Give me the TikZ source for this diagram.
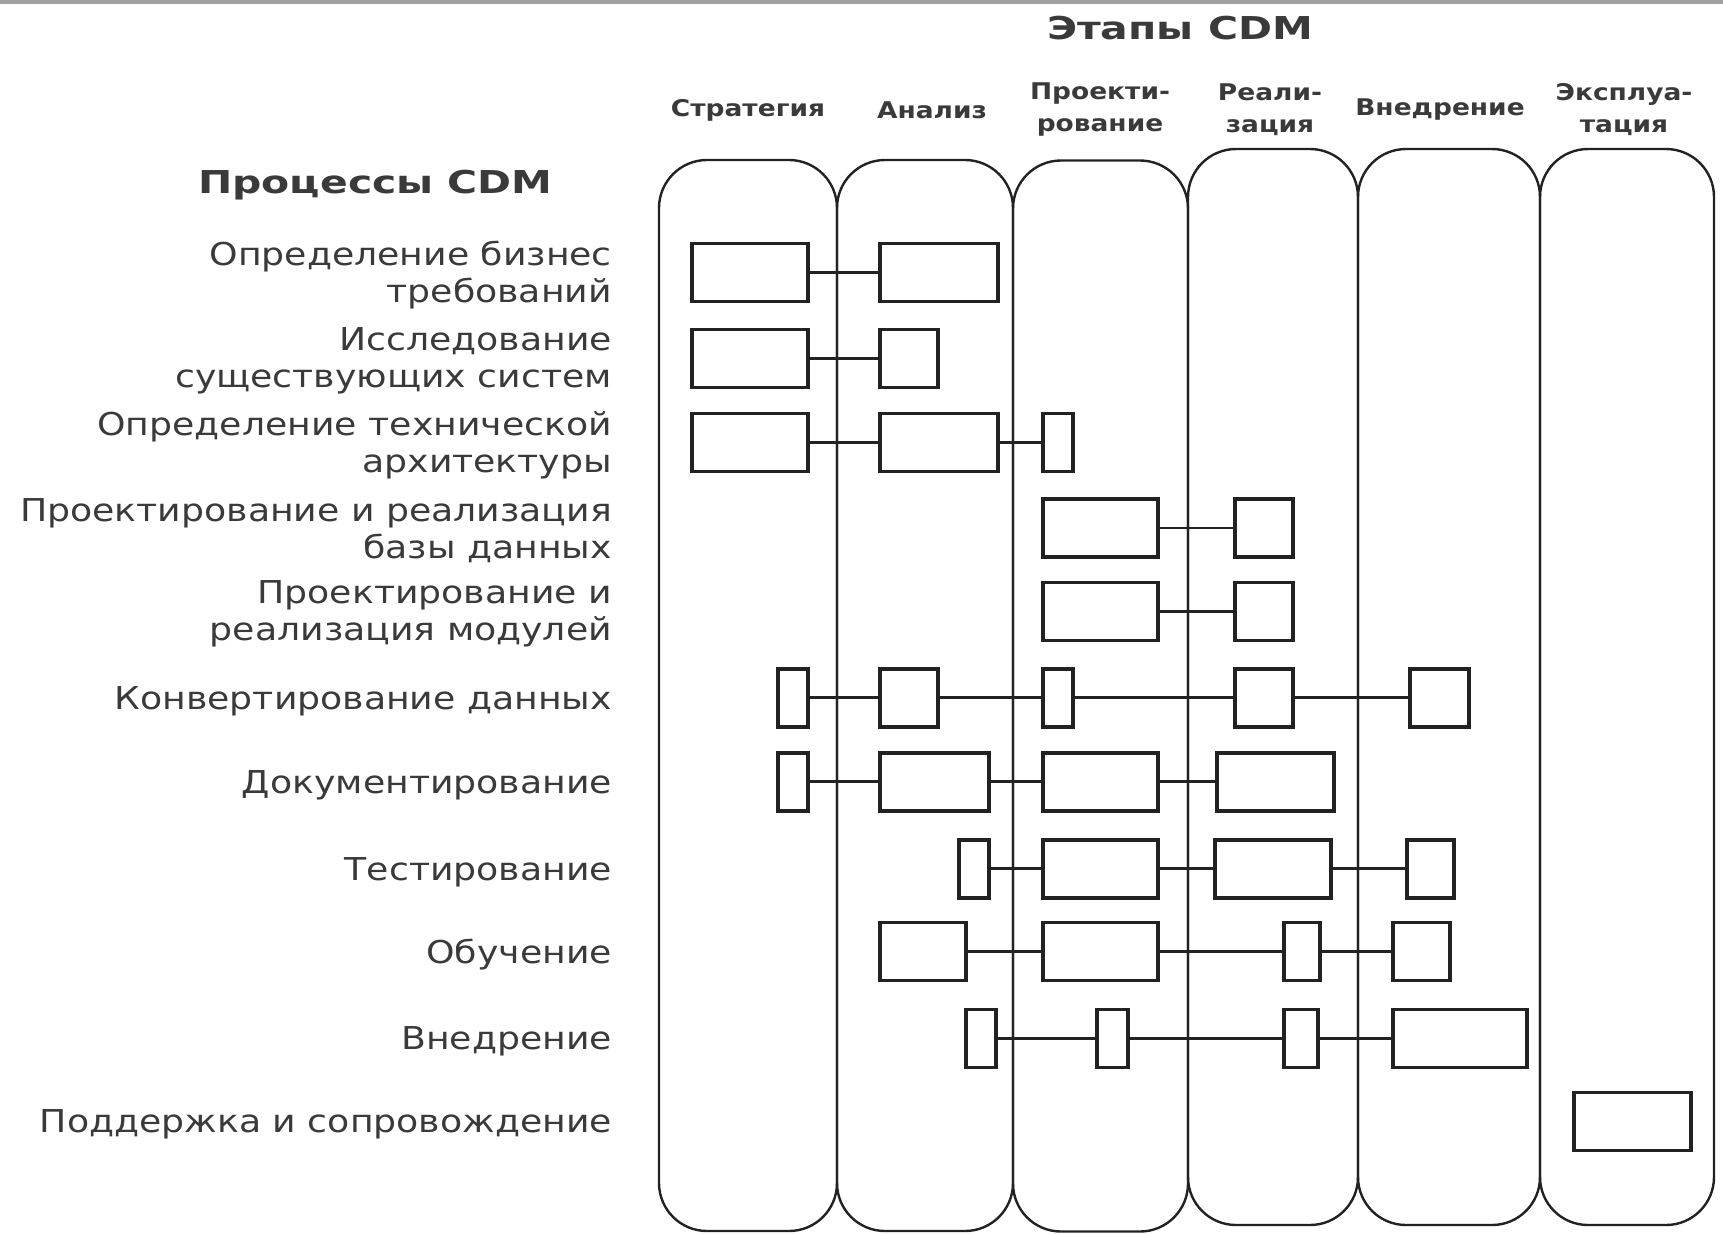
\documentclass[tikz,border=0pt]{standalone}
\usepackage{fontspec}
\setmainfont[FakeStretch=1.15]{DejaVu Sans}
\newfontfamily\headfont[FakeStretch=1.3]{DejaVu Sans}
\usepackage{tikz}
\usetikzlibrary{positioning}
\definecolor{ink}{HTML}{222222}
\definecolor{txt}{HTML}{3A3A3A}
\definecolor{rule}{HTML}{A0A0A0}

\begin{document}
\begin{tikzpicture}[x=0.5pt,y=-0.5pt,
  stage/.style={draw=ink,line width=1.2pt,rounded corners=24pt,minimum width=#1,minimum height=535.5pt,inner sep=0},
  bx/.style={draw=ink,line width=1.7pt,fill=white,minimum height=29pt,inner sep=0},
  ln/.style={draw=ink,line width=1.4pt},
  proc/.style={anchor=east,align=right,text=txt,font=\fontsize{15.75}{18.5}\selectfont},
  lab/.style={align=center,text=txt,font=\fontsize{11.5}{16}\selectfont\bfseries},
  head/.style={text=txt,font=\headfont\fontsize{15.75}{18}\selectfont\bfseries}]
  \useasboundingbox (0,0) rectangle (1723,1233);
  \fill[rule] (0,0) rectangle (1723,4);
  % stages
  \node[stage=89pt] (c1) at (748,695.5) {};
  \node[stage=88pt] (c2) at (925,695.5) {};
  \node[stage=87.5pt] (c3) at (1100.5,696) {};
  \node[stage=85pt,minimum height=538pt] (c4) at (1273,687) {};
  \node[stage=91pt,minimum height=538pt] (c5) at (1449,687) {};
  \node[stage=87pt,minimum height=538pt] (c6) at (1627,687) {};
  \node[head] (hs) at (1180,28) {Этапы CDM};
  \node[lab] (l1) at (748,110) {Стратегия};
  \node[lab] (l2) at (932,110) {Анализ};
  \node[lab] (l3) at (1100,110) {Проекти-\\рование};
  \node[lab] (l4) at (1270,110) {Реали-\\зация};
  \node[lab] (l5) at (1440,110) {Внедрение};
  \node[lab] (l6) at (1624,110) {Эксплуа-\\тация};
  % processes
  \node[head] (hp) at (375.5,185) {Процессы CDM};
  \node[proc] (p1) at (619,275) {Определение бизнес\\требований};
  \node[proc] (p2) at (619,361) {Исследование\\существующих систем};
  \node[proc] (p3) at (619,445) {Определение технической\\архитектуры};
  \node[proc] (p4) at (619,530.5) {Проектирование и реализация\\базы данных};
  \node[proc] (p5) at (619,614) {Проектирование и\\реализация модулей};
  \node[proc] (p6) at (619,701) {Конвертирование данных};
  \node[proc] (p7) at (619,785) {Документирование};
  \node[proc] (p8) at (619,872) {Тестирование};
  \node[proc] (p9) at (619,955) {Обучение};
  \node[proc] (p10) at (619,1041.5) {Внедрение};
  \node[proc] (p11) at (619,1124.5) {Поддержка и сопровождение};
  % activity boxes
  \node[bx,minimum width=58pt] (r1a) at (750,272.5) {};
  \node[bx,minimum width=59pt] (r1b) at (939,272.5) {};
  \node[bx,minimum width=58pt] (r2a) at (750,358.5) {};
  \node[bx,minimum width=29pt] (r2b) at (909,358.5) {};
  \node[bx,minimum width=58pt] (r3a) at (750,442.5) {};
  \node[bx,minimum width=59pt] (r3b) at (939,442.5) {};
  \node[bx,minimum width=15pt] (r3c) at (1058,442.5) {};
  \node[bx,minimum width=57.5pt] (r4a) at (1100.5,528) {};
  \node[bx,minimum width=29pt] (r4b) at (1264,528) {};
  \node[bx,minimum width=57.5pt] (r5a) at (1100.5,611.7) {};
  \node[bx,minimum width=29pt] (r5b) at (1264,611.7) {};
  \node[bx,minimum width=15pt] (r6a) at (793,697.8) {};
  \node[bx,minimum width=29pt] (r6b) at (909,697.8) {};
  \node[bx,minimum width=15pt] (r6c) at (1058,697.8) {};
  \node[bx,minimum width=29pt] (r6d) at (1264,697.8) {};
  \node[bx,minimum width=29.5pt] (r6e) at (1439.5,697.8) {};
  \node[bx,minimum width=15pt] (r7a) at (793,781.8) {};
  \node[bx,minimum width=54.5pt] (r7b) at (934.5,781.8) {};
  \node[bx,minimum width=57.5pt] (r7c) at (1100.5,781.8) {};
  \node[bx,minimum width=58.5pt] (r7d) at (1275.5,781.8) {};
  \node[bx,minimum width=15pt] (r8a) at (974,868.8) {};
  \node[bx,minimum width=57.5pt] (r8b) at (1100.5,868.8) {};
  \node[bx,minimum width=58pt] (r8c) at (1273,868.8) {};
  \node[bx,minimum width=23.5pt] (r8d) at (1430.5,868.8) {};
  \node[bx,minimum width=43pt] (r9a) at (923,951.7) {};
  \node[bx,minimum width=57.5pt] (r9b) at (1100.5,951.7) {};
  \node[bx,minimum width=18pt] (r9c) at (1302,951.7) {};
  \node[bx,minimum width=28.5pt] (r9d) at (1421.5,951.7) {};
  \node[bx,minimum width=15pt] (r10a) at (981,1038.5) {};
  \node[bx,minimum width=15.5pt] (r10b) at (1112.5,1038.5) {};
  \node[bx,minimum width=17pt] (r10c) at (1301,1038.5) {};
  \node[bx,minimum width=67pt] (r10d) at (1460,1038.5) {};
  \node[bx,minimum width=58.5pt] (r11a) at (1632.5,1121.5) {};
  % links
  \draw[ln] (r1a) -- (r1b);
  \draw[ln] (r2a) -- (r2b);
  \draw[ln] (r3a) -- (r3b) -- (r3c);
  \draw[ln] (r4a) -- (r4b);
  \draw[ln] (r5a) -- (r5b);
  \draw[ln] (r6a) -- (r6b) -- (r6c) -- (r6d) -- (r6e);
  \draw[ln] (r7a) -- (r7b) -- (r7c) -- (r7d);
  \draw[ln] (r8a) -- (r8b) -- (r8c) -- (r8d);
  \draw[ln] (r9a) -- (r9b) -- (r9c) -- (r9d);
  \draw[ln] (r10a) -- (r10b) -- (r10c) -- (r10d);
\end{tikzpicture}
\end{document}
